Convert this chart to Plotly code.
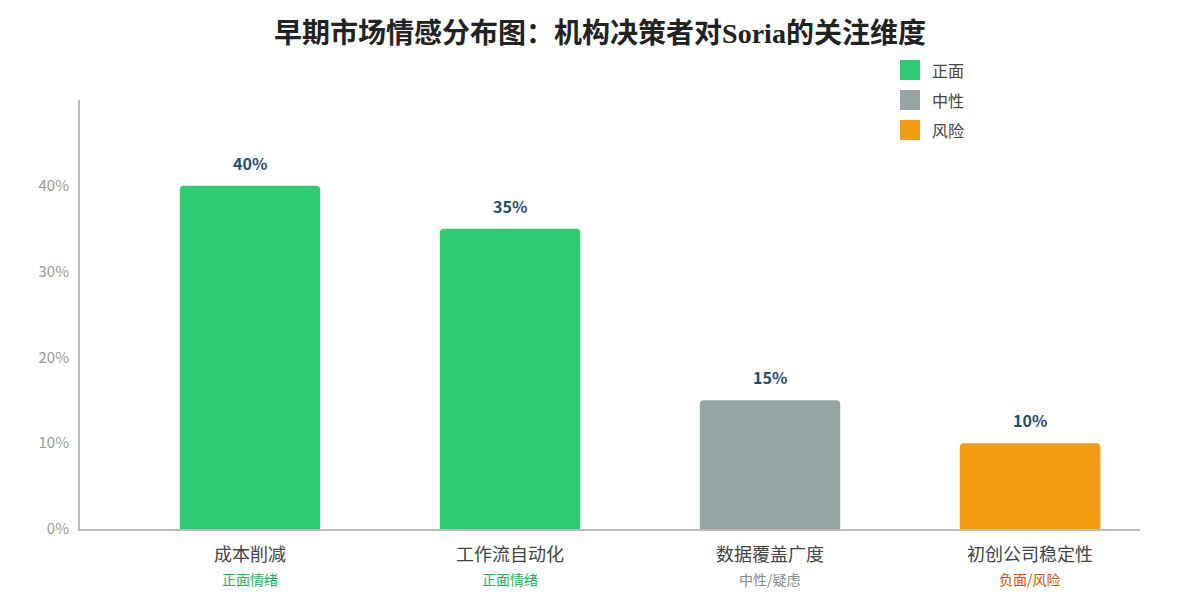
import plotly.graph_objects as go

categories = ["成本削减", "工作流自动化", "数据覆盖广度", "初创公司稳定性"]
values = [40, 35, 15, 10]
sub_labels = ["正面情绪", "正面情绪", "中性/疑虑", "负面/风险"]
groups = ["正面", "正面", "中性", "风险"]
group_colors = {"正面": "#2ecc71", "中性": "#95a5a6", "风险": "#f39c12"}
sub_colors = {"正面": "#27ae60", "中性": "#7f8c8d", "风险": "#d35400"}
legend_items = ["正面", "中性", "风险"]
y_ticks = [0, 10, 20, 30, 40]

FONT = "Noto Sans CJK SC, Lato, sans-serif"

xs = list(range(len(categories)))
fig = go.Figure()
fig.add_trace(go.Bar(
    x=xs, y=values,
    marker=dict(color=[group_colors[g] for g in groups], line=dict(width=0)),
    width=0.54, showlegend=False, hoverinfo="skip",
))

annotations = []
for i, (v, c, s, g) in enumerate(zip(values, categories, sub_labels, groups)):
    annotations.append(dict(x=i, y=v, xref="x", yref="y", text=f"<b>{v}%</b>",
                            showarrow=False, yanchor="bottom", yshift=9,
                            font=dict(family=FONT, size=16, color="#1f4e6e")))
    annotations.append(dict(x=i, y=0, xref="x", yref="y", text=c,
                            showarrow=False, yanchor="middle", yshift=-24,
                            font=dict(family=FONT, size=18, color="#444")))
    annotations.append(dict(x=i, y=0, xref="x", yref="y", text=s,
                            showarrow=False, yanchor="middle", yshift=-50,
                            font=dict(family=FONT, size=14, color=sub_colors[g])))

# page has an 8px body margin: compensate so the plot lands at target pixels
OFF = 8
W, H = 1200 - OFF, 600 - OFF
ml, mr, mt, mb = 80 - OFF, 60, 100 - OFF, 71
pw, ph = W - ml - mr, H - mt - mb
def px(x):
    return (x - OFF - ml) / pw
def py(y):
    return (H + OFF - mb - y) / ph

shapes = []
for k, name in enumerate(legend_items):
    top = 60 + 30 * k
    shapes.append(dict(type="rect", xref="paper", yref="paper",
                       x0=px(900), x1=px(920), y0=py(top + 20), y1=py(top),
                       fillcolor=group_colors[name], line=dict(width=0)))
    annotations.append(dict(x=px(930), y=py(top + 10), xref="paper", yref="paper",
                            text=name, showarrow=False, xanchor="left", yanchor="middle",
                            font=dict(family=FONT, size=16, color="#444")))

fig.update_layout(
    width=W, height=H,
    margin=dict(l=ml, r=mr, t=mt, b=mb),
    paper_bgcolor="white", plot_bgcolor="white",
    title=dict(text="<b>早期市场情感分布图：机构决策者对Soria的关注维度</b>",
               x=(600 - OFF) / W, xanchor="center", y=(H - (33 - OFF)) / H, yanchor="middle",
               font=dict(family="Liberation Serif, Noto Sans CJK SC, serif", size=28, color="#222")),
    xaxis=dict(range=[-0.654, 3.423], showticklabels=False, showgrid=False, zeroline=False,
               showline=True, linecolor="#bbb", linewidth=2, ticks=""),
    yaxis=dict(range=[0, 50], tickvals=y_ticks, ticktext=[f"{t}%" for t in y_ticks],
               showgrid=False, zeroline=False, showline=True, linecolor="#bbb", linewidth=2,
               ticks="", ticklabelstandoff=6,
               tickfont=dict(family=FONT, size=15, color="#999")),
    barcornerradius=4,
    annotations=annotations, shapes=shapes, showlegend=False,
)
fig.write_html("out.html")
